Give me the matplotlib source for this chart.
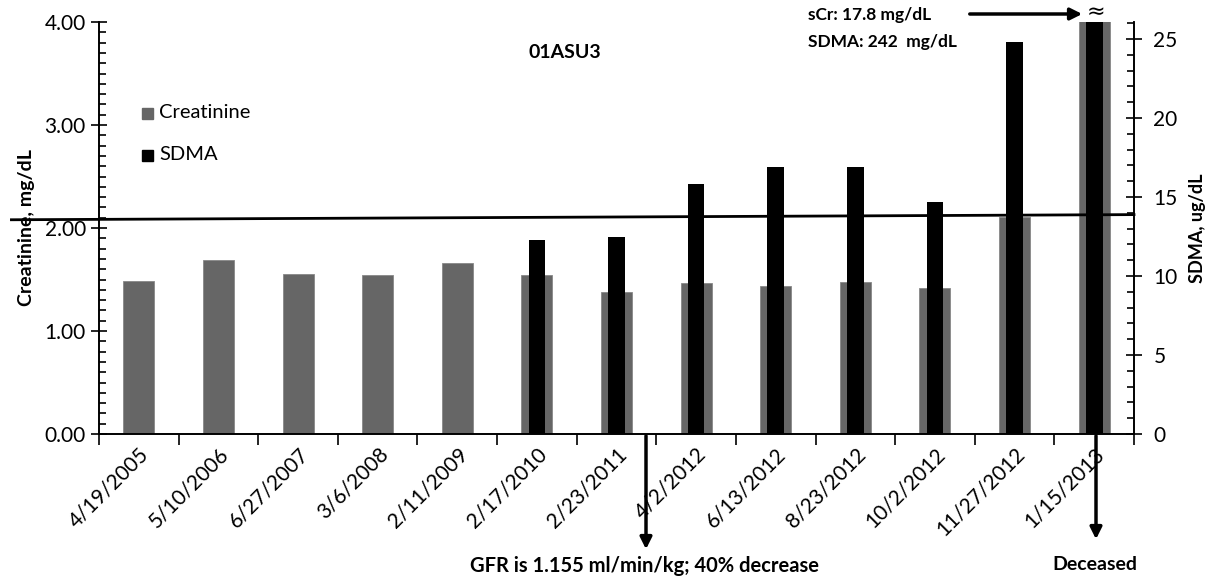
import matplotlib
matplotlib.use("Agg")
import matplotlib.pyplot as plt
from matplotlib.ticker import MultipleLocator, FixedLocator
import numpy as np

plt.rcParams['font.family'] = ['Lato', 'DejaVu Sans']

dates = ["4/19/2005", "5/10/2006", "6/27/2007", "3/6/2008", "2/11/2009",
         "2/17/2010", "2/23/2011", "4/2/2012", "6/13/2012", "8/23/2012",
         "10/2/2012", "11/27/2012", "1/15/2013"]
creatinine = [1.49, 1.69, 1.55, 1.54, 1.66, 1.54, 1.38, 1.47, 1.44, 1.48, 1.42, 2.11, 17.8]
sdma = [0, 0, 0, 0, 0, 12.25, 12.45, 15.8, 16.9, 16.9, 14.7, 24.8, 242]
ref_x = [-1.6, 12.5]
ref_y = [2.08, 2.13]

W, H = 1223, 579
fig = plt.figure(figsize=(W / 100, H / 100), dpi=100)
ax1 = fig.add_axes([99 / W, 1 - 434 / H, (1134 - 99) / W, (434 - 22) / H])
ax2 = ax1.twinx()

x = np.arange(len(dates))
ax1.bar(x, creatinine, width=0.39, color="#666666", edgecolor="#888888", linewidth=0.6, zorder=2)
ax2.bar(x, sdma, width=0.21, color="black", zorder=2)
ax2.plot(ref_x, ref_y, color="black", lw=2, transform=ax1.transData, clip_on=False, zorder=5)

ax1.set_xlim(-0.5, len(dates) - 0.5)
ax1.set_ylim(0, 4)
ax2.set_ylim(0, 26.07)

for a in (ax1, ax2):
    a.spines['top'].set_visible(False)
    for s in a.spines.values():
        s.set_linewidth(1.2)

ax1.set_xticks(x)
ax1.set_xticklabels(dates, rotation=45, ha='right', rotation_mode='anchor', fontsize=15)
ax1.xaxis.set_minor_locator(FixedLocator(np.arange(-0.5, len(dates), 1.0)))
ax1.tick_params(axis='x', which='major', length=0, pad=7)
ax1.tick_params(axis='x', which='minor', length=8, direction='out', width=1.2)

ax1.yaxis.set_major_locator(MultipleLocator(1))
ax1.yaxis.set_minor_locator(MultipleLocator(0.1))
ax1.set_yticklabels([f"{v:.2f}" for v in ax1.get_yticks()])
ax1.tick_params(axis='y', which='major', direction='inout', length=12, width=1.2, labelsize=15)
ax1.tick_params(axis='y', which='minor', direction='in', length=5, width=1.2)

ax2.yaxis.set_major_locator(MultipleLocator(5))
ax2.yaxis.set_minor_locator(MultipleLocator(1))
ax2.tick_params(axis='y', which='major', direction='inout', length=12, width=1.2, labelsize=15, pad=8)
ax2.tick_params(axis='y', which='minor', direction='in', length=5, width=1.2)

ax1.set_ylabel("Creatinine, mg/dL", fontsize=14, fontweight='bold', labelpad=7)
ax2.set_ylabel("SDMA, ug/dL", fontsize=13, fontweight='bold', labelpad=8)

# legend
fig.patches.append(plt.Rectangle((142 / W, 1 - 119 / H), 11 / W, 11 / H, color="#666666", transform=fig.transFigure))
fig.patches.append(plt.Rectangle((142 / W, 1 - 161 / H), 11 / W, 11 / H, color="black", transform=fig.transFigure))
fig.text(159 / W, 1 - 113 / H, "Creatinine", fontsize=14.5, va='center')
fig.text(159 / W, 1 - 155 / H, "SDMA", fontsize=14.5, va='center')

fig.text(565 / W, 1 - 53 / H, "01ASU3", fontsize=14, fontweight='bold', ha='center', va='center')

fig.text(808 / W, 1 - 15 / H, "sCr: 17.8 mg/dL", fontsize=12.5, fontweight='bold', va='center')
fig.text(808 / W, 1 - 42 / H, "SDMA: 242  mg/dL", fontsize=12.5, fontweight='bold', va='center')
fig.text(1096 / W, 1 - 12 / H, "\u2248", fontsize=16, ha='center', va='center', family='DejaVu Sans')

arrow = dict(arrowstyle="-|>,head_length=0.7,head_width=0.35", color="black", lw=2.5)
ax1.annotate("", xy=(1085 / W, 1 - 14 / H), xytext=(967 / W, 1 - 14 / H),
             xycoords='figure fraction', textcoords='figure fraction', arrowprops=arrow)
ax1.annotate("", xy=(646 / W, 1 - 552 / H), xytext=(646 / W, 1 - 433 / H),
             xycoords='figure fraction', textcoords='figure fraction', arrowprops=arrow)
ax1.annotate("", xy=(1096 / W, 1 - 542 / H), xytext=(1096 / W, 1 - 433 / H),
             xycoords='figure fraction', textcoords='figure fraction', arrowprops=arrow)
fig.text(645 / W, 1 - 566 / H, "GFR is 1.155 ml/min/kg; 40% decrease", fontsize=14.5, fontweight='bold', ha='center', va='center')
fig.text(1095 / W, 1 - 564 / H, "Deceased", fontsize=14, fontweight='bold', ha='center', va='center')

fig.savefig("out.png", dpi=100)
